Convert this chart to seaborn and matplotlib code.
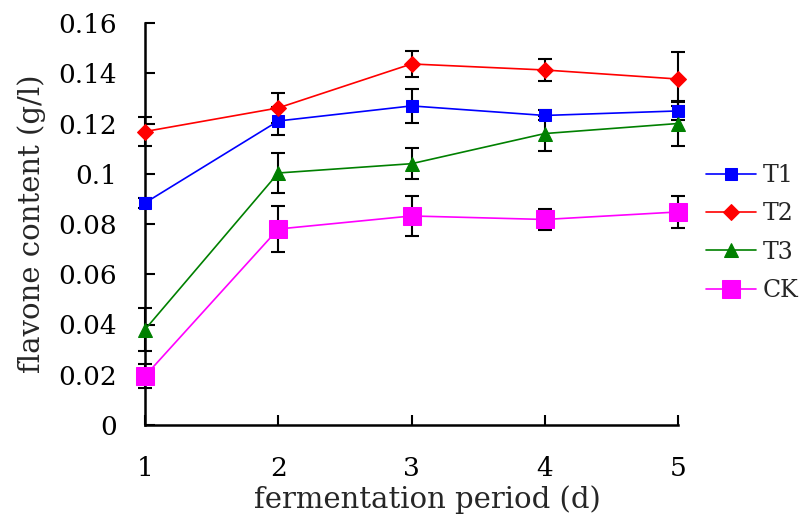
import numpy as np
import pandas as pd
import matplotlib
matplotlib.use("Agg")
import matplotlib.pyplot as plt
import seaborn as sns

days = [1, 2, 3, 4, 5]
series_names = ["T1", "T2", "T3", "CK"]
t1 = [0.0884, 0.1210, 0.1270, 0.1232, 0.1250]
t2 = [0.1168, 0.1262, 0.1437, 0.1413, 0.1377]
t3 = [0.0380, 0.1003, 0.1040, 0.1160, 0.1200]
ck = [0.0195, 0.0780, 0.0832, 0.0818, 0.0848]
t1_err = [0.0020, 0.0056, 0.0068, 0.0020, 0.0035]
t2_err = [0.0056, 0.0060, 0.0052, 0.0042, 0.0107]
t3_err = [0.0084, 0.0080, 0.0062, 0.0068, 0.0090]
ck_err = [0.0048, 0.0090, 0.0080, 0.0040, 0.0064]
y_ticks = [0, 0.02, 0.04, 0.06, 0.08, 0.1, 0.12, 0.14, 0.16]
y_tick_labels = ["0", "0.02", "0.04", "0.06", "0.08", "0.1", "0.12", "0.14", "0.16"]

colors = ["#0000FF", "#FF0000", "#008000", "#FF00FF"]
markers = ["s", "D", "^", "s"]
msizes = [9, 8, 10, 13]

df = pd.DataFrame({
    "day": days * 4,
    "value": t1 + t2 + t3 + ck,
    "err": t1_err + t2_err + t3_err + ck_err,
    "series": sum([[n] * 5 for n in series_names], []),
})

sns.set_style("ticks")
plt.rcParams["font.family"] = ["DejaVu Serif"]

fig = plt.figure(figsize=(8.05, 5.16), dpi=100)
ax = fig.add_axes([145 / 805, 91 / 516, 533 / 805, 402 / 516])

for name, col, mk, ms in zip(series_names, colors, markers, msizes):
    sub = df[df["series"] == name]
    ax.errorbar(sub["day"], sub["value"], yerr=sub["err"], fmt="none",
                ecolor="black", elinewidth=1.5, capsize=5, capthick=1.5,
                zorder=2, clip_on=False)
    sns.lineplot(data=sub, x="day", y="value", ax=ax, color=col,
                 marker=mk, markersize=ms, markeredgecolor=col,
                 linewidth=1.2, label=name, zorder=3, clip_on=False,
                 errorbar=None)

ax.set_xlim(1, 5)
ax.set_ylim(0, 0.16)
ax.set_xticks(days)
ax.set_xticklabels([str(d) for d in days])
ax.set_yticks(y_ticks)
ax.set_yticklabels(y_tick_labels)
ax.tick_params(axis="both", direction="in", length=7, width=1.5,
               labelsize=19, colors="black", pad=20)
ax.tick_params(axis="x", pad=22)
for s in ["top", "right"]:
    ax.spines[s].set_visible(False)
for s in ["left", "bottom"]:
    ax.spines[s].set_linewidth(1.8)
    ax.spines[s].set_color("black")

ax.set_xlabel("fermentation period (d)", fontsize=21)
ax.set_ylabel("flavone content (g/l)", fontsize=21)
ax.xaxis.set_label_coords(0.53, -0.15)
ax.yaxis.set_label_coords(-0.185, 0.5)

leg = ax.legend(loc="upper left", bbox_to_anchor=(706 / 805, (516 - 164) / 516),
                bbox_transform=fig.transFigure, frameon=False, fontsize=17,
                handlelength=2.1, handletextpad=0.3, labelspacing=0.65,
                borderpad=0, borderaxespad=0)

fig.savefig("out.png", dpi=100)
